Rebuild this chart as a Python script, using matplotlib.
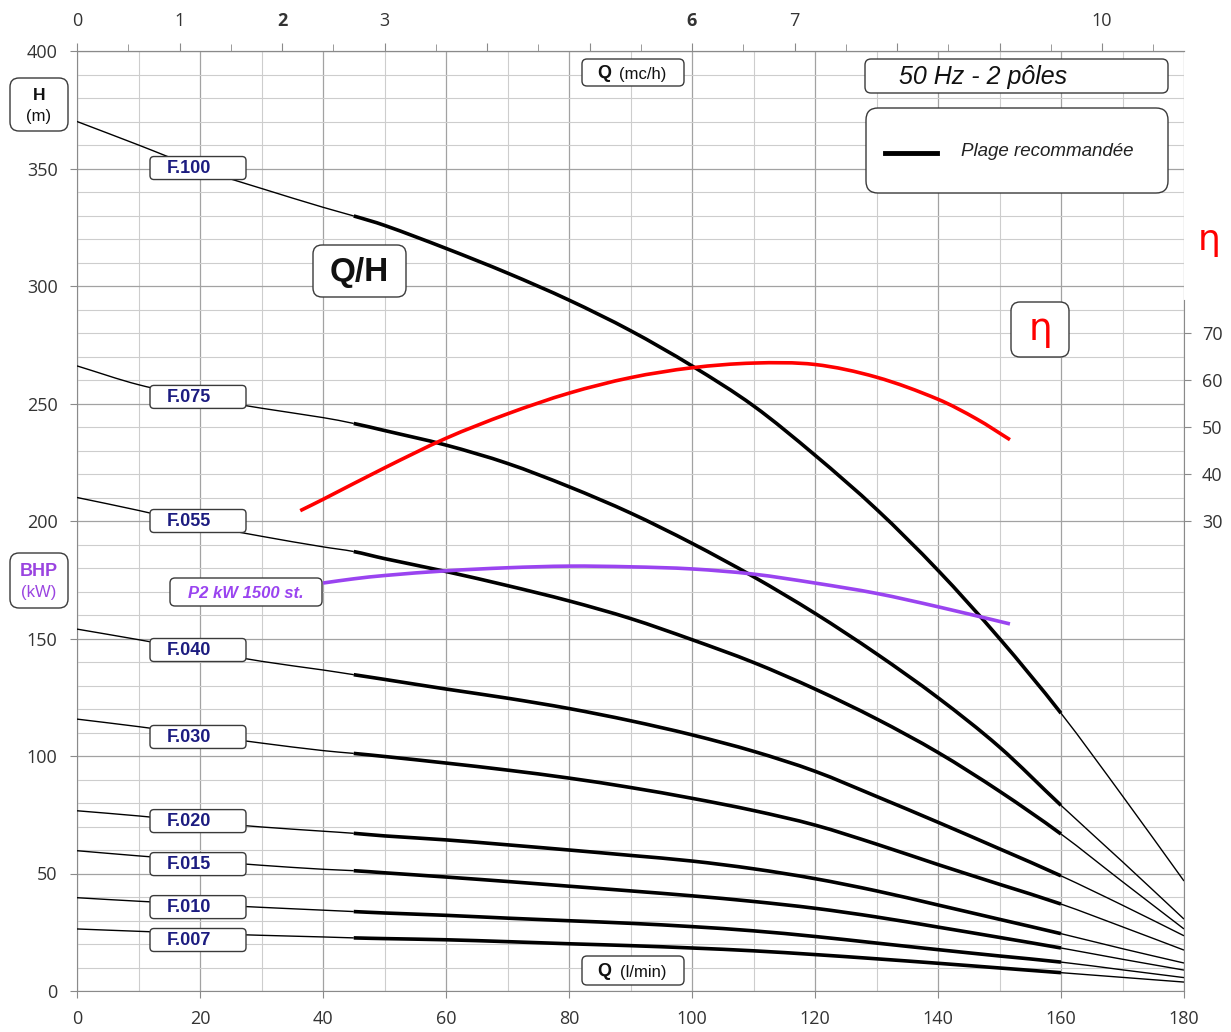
import numpy as np
import matplotlib.pyplot as plt
from matplotlib.patches import FancyBboxPatch, PathPatch
from matplotlib.path import Path
from matplotlib.lines import Line2D

# flow in l/min
q = [0, 10, 20, 30, 40, 45, 50, 60, 70, 80, 90, 100, 110, 120, 130, 140, 150, 160, 170, 180]

# head curves (m)
h_f100 = [370, 360, 349.8, 341.5, 333.5, 329.8, 325.8, 316, 305.5, 294, 281, 266, 249, 228, 205, 179, 150, 118.2, 83, 46.8]
h_f075 = [266, 258, 252.5, 248, 244, 241.5, 238.5, 232.3, 224.5, 214.6, 203.4, 190.5, 176.3, 160.7, 143.5, 124.8, 103.8, 79, 55, 30.6]
h_f055 = [210, 204.5, 198.5, 193.5, 189, 187, 184, 178.5, 172.5, 166, 158.5, 149.5, 139.8, 128.5, 115.8, 101.5, 85, 66.8, 46.5, 26.4]
h_f040 = [154, 149.5, 144.8, 140.3, 136.6, 134.6, 132.6, 128.5, 124.6, 120.2, 115, 109, 102, 93.5, 82.8, 71.8, 60.5, 49, 36.5, 23.5]
h_f030 = [115.7, 112.5, 109, 105.5, 102.3, 101.1, 99.8, 97, 94, 90.6, 86.6, 82, 76.8, 70.6, 62.5, 53.8, 45.4, 37, 27.3, 17.4]
h_f020 = [76.7, 74.5, 72, 69.8, 68, 67.1, 66, 64.3, 62.2, 60, 57.7, 55.3, 52, 47.8, 42.6, 36.6, 30.5, 24.4, 18, 11.9]
h_f015 = [59.7, 57.5, 55.5, 53.5, 51.8, 51.2, 50.3, 48.5, 46.6, 44.6, 42.6, 40.5, 38.1, 35.2, 31.5, 27.2, 22.8, 18.3, 13.5, 8.9]
h_f010 = [39.7, 38.2, 36.9, 35.6, 34.4, 33.8, 33.2, 32.2, 31, 29.9, 28.8, 27.4, 25.6, 23.2, 20.4, 17.6, 14.9, 12.3, 9, 5.7]
h_f007 = [26.4, 25.4, 24.5, 23.7, 23, 22.6, 22.3, 21.8, 21, 20.1, 19.3, 18.3, 17.1, 15.5, 13.7, 11.8, 9.8, 7.8, 5.8, 3.8]

models = ["F.100", "F.075", "F.055", "F.040", "F.030", "F.020", "F.015", "F.010", "F.007"]
heads = [h_f100, h_f075, h_f055, h_f040, h_f030, h_f020, h_f015, h_f010, h_f007]

# recommended range
q_lo, q_hi = 45, 160

# efficiency (%)
eta_q = [36.3, 40, 50, 60, 70, 80, 90, 100, 110, 120, 130, 140, 146.3, 151.7]
eta = [32.2, 34.6, 41.3, 47.6, 52.8, 57.2, 60.5, 62.6, 63.6, 63.3, 60.6, 55.9, 51.7, 47.3]

# P2 power curve, drawn on the head scale
p2_q = [40, 45, 50, 60, 70, 80, 90, 100, 110, 120, 130, 140, 151.7]
p2_h = [173.6, 175.4, 176.8, 178.8, 180.1, 180.8, 180.5, 179.6, 177.4, 173.6, 169.2, 163.5, 156.2]

top_ticks = [0, 1, 2, 3, 4, 5, 6, 7, 8, 9, 10]
top_labels = ["0", "1", "2", "3", "", "", "6", "7", "", "", "10"]

W, H = 1231, 1032
fig = plt.figure(figsize=(W / 100, H / 100), dpi=100)
ax = fig.add_axes([77 / W, 1 - 991 / H, (1184 - 77) / W, (991 - 51) / H])

tick_font = "Open Sans"
box_font = "Liberation Sans"
grey = "#8a8a8a"

ax.set_xlim(0, 180)
ax.set_ylim(0, 400)
ax.set_xticks(np.arange(0, 181, 20))
ax.set_xticks(np.arange(0, 181, 10), minor=True)
ax.set_yticks(np.arange(0, 401, 50))
ax.set_yticks(np.arange(0, 401, 10), minor=True)
ax.grid(which="major", color="#a2a2a2", lw=0.9)
ax.grid(which="minor", color="#cdcdcd", lw=0.8)
ax.set_axisbelow(True)
ax.tick_params(which="major", length=5, color=grey, pad=9, labelsize=13, labelcolor="#333333")
ax.tick_params(which="minor", length=0)
for lab in ax.get_xticklabels() + ax.get_yticklabels():
    lab.set_fontfamily(tick_font)
for s in ["left", "bottom", "top"]:
    ax.spines[s].set_color(grey)
ax.spines["right"].set_visible(False)


def smooth_line(axis, xs, ys, i0, i1, **kw):
    # draws points i0..i1 as a smooth curve (Catmull-Rom as cubic Bezier)
    xs = np.asarray(xs, float)
    ys = np.asarray(ys, float)
    n = len(xs)
    verts = [(xs[i0], ys[i0])]
    codes = [Path.MOVETO]
    for i in range(i0, i1):
        a = max(i - 1, 0)
        b = min(i + 2, n - 1)
        h = xs[i + 1] - xs[i]
        m1 = (ys[i + 1] - ys[a]) / (xs[i + 1] - xs[a])
        m2 = (ys[b] - ys[i]) / (xs[b] - xs[i])
        verts += [(xs[i] + h / 3, ys[i] + m1 * h / 3),
                  (xs[i + 1] - h / 3, ys[i + 1] - m2 * h / 3),
                  (xs[i + 1], ys[i + 1])]
        codes += [Path.CURVE4] * 3
    axis.add_patch(PathPatch(Path(verts, codes), fill=False, **kw))


# head curves: thin outside recommended range, thick inside
i_lo, i_hi = q.index(q_lo), q.index(q_hi)
for hh in heads:
    smooth_line(ax, q, hh, 0, i_lo, ec="black", lw=1.0, zorder=3)
    smooth_line(ax, q, hh, i_lo, i_hi, ec="black", lw=2.6, zorder=3, capstyle="butt")
    smooth_line(ax, q, hh, i_hi, len(q) - 1, ec="black", lw=1.0, zorder=3)

smooth_line(ax, p2_q, p2_h, 0, len(p2_q) - 1, ec="#9a44f0", lw=2.6, zorder=4)

# efficiency axis
ax2 = ax.twinx()
ax2.set_ylim(-70, 130)
ax2.set_yticks([30, 40, 50, 60, 70])
smooth_line(ax2, eta_q, eta, 0, len(eta_q) - 1, ec="red", lw=2.6, zorder=4)
for s in ["left", "bottom", "top"]:
    ax2.spines[s].set_visible(False)
ax2.spines["right"].set_color(grey)
ax2.spines["right"].set_bounds(-70, 77)
ax2.tick_params(length=5, color=grey, pad=8, labelsize=13, labelcolor="#333333")
for lab in ax2.get_yticklabels():
    lab.set_fontfamily(tick_font)

# top axis in m3/h
sec = ax.secondary_xaxis("top", functions=(lambda x: x * 0.06, lambda m: m / 0.06))
sec.set_xticks(top_ticks, labels=top_labels)
sec.set_xticks(np.arange(0.5, 10.8, 1.0), minor=True)
sec.tick_params(which="major", length=6, color=grey, pad=9, labelsize=13, labelcolor="#333333")
sec.tick_params(which="minor", length=5, color=grey)
sec.spines["top"].set_color(grey)
for lab in sec.get_xticklabels():
    lab.set_fontfamily(tick_font)
    if lab.get_text() in ("2", "6"):
        lab.set_fontweight("bold")


def px_box(x0, y0, x1, y1, r=7, ec="#3a3a3a"):
    patch = FancyBboxPatch((x0 / W, 1 - y1 / H), (x1 - x0) / W, (y1 - y0) / H,
                           boxstyle="round,pad=0,rounding_size=%f" % (r / W),
                           mutation_aspect=W / H, transform=fig.transFigure,
                           fc="white", ec=ec, lw=1.0, zorder=5)
    fig.add_artist(patch)


def px_text(x, y, s, **kw):
    kw.setdefault("family", box_font)
    kw.setdefault("ha", "center")
    kw.setdefault("va", "center")
    fig.text(x / W, 1 - y / H, s, zorder=6, **kw)


# model labels along the curves
label_h = [350.2, 252.8, 200, 145.1, 108.1, 72.3, 54, 35.7, 21.7]
for name, yh in zip(models, label_h):
    xd, yd = ax.transData.transform((0, yh))
    yc = H - yd
    px_box(150, yc - 11.5, 246, yc + 11.5, r=4)
    px_text(189, yc + 0.5, name, fontsize=13, fontweight="bold", color="#1c1c80")

# axis title boxes
px_box(10, 78, 68, 131, r=9)
px_text(39, 96, "H", fontsize=12.5, fontweight="bold", color="#111111")
px_text(39, 117, "(m)", fontsize=12, color="#111111")

px_box(10, 553, 68, 608, r=9)
px_text(39, 572, "BHP", fontsize=13, fontweight="bold", color="#9a44e0")
px_text(39, 593, "(kW)", fontsize=12, color="#9a44e0")

px_box(582, 59, 684, 86, r=5)
px_text(597, 73, "Q", fontsize=13, fontweight="bold", ha="left", color="#111111")
px_text(619, 74, "(mc/h)", fontsize=12, ha="left", color="#111111")

px_box(582, 956, 684, 985, r=5)
px_text(597, 971, "Q", fontsize=13, fontweight="bold", ha="left", color="#111111")
px_text(620, 972, "(l/min)", fontsize=12, ha="left", color="#111111")

px_box(313, 245, 406, 297, r=9)
px_text(359, 272, "Q/H", fontsize=24, fontweight="bold", color="#111111")

px_box(170, 578, 322, 606, r=5)
px_text(246, 593, "P2 kW 1500 st.", fontsize=12, fontweight="bold", style="italic", color="#9a44f0")

px_box(865, 59, 1168, 93, r=6)
px_text(899, 77, "50 Hz - 2 pôles", fontsize=18, style="italic", ha="left", color="#111111")

px_box(866, 108, 1168, 193, r=12)
fig.add_artist(Line2D([885 / W, 937 / W], [1 - 153 / H, 1 - 153 / H], transform=fig.transFigure,
                      color="black", lw=3.5, zorder=6))
px_text(961, 152, "Plage recommandée", fontsize=13.5, style="italic", ha="left", color="#222222")

px_box(1011, 302, 1069, 357, r=9)
px_text(1040, 330, "η", fontsize=27, family="DejaVu Sans", color="red")
px_text(1209, 240, "η", fontsize=26, family="DejaVu Sans", color="red")

fig.savefig("out.png", dpi=100)
